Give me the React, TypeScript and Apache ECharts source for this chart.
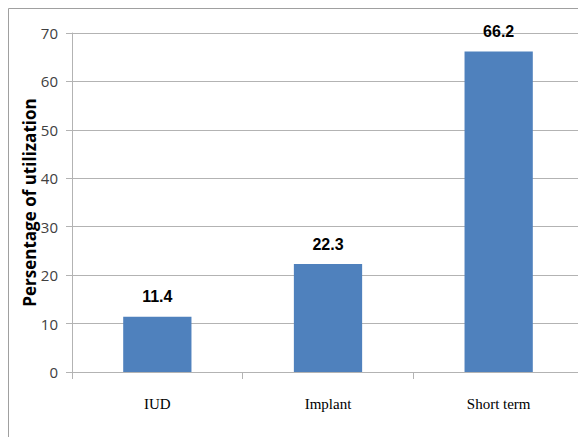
import React, { useEffect, useRef } from "react";
import * as echarts from "echarts";

const categories = ["IUD", "Implant", "Short term"];
const values = [11.4, 22.3, 66.2];
const yAxisName = "Persentage of utilization";

export default function App() {
  const ref = useRef<HTMLDivElement>(null);
  useEffect(() => {
    if (!ref.current) return;
    const chart = echarts.init(ref.current, undefined, { renderer: "svg" });
    chart.setOption({
      animation: false,
      backgroundColor: "#ffffff",
      graphic: [
        { type: "line", shape: { x1: 8.5, y1: 8.5, x2: 8.5, y2: 437 }, style: { stroke: "#a0a0a0", lineWidth: 1 } },
        { type: "line", shape: { x1: 8.5, y1: 8.5, x2: 584, y2: 8.5 }, style: { stroke: "#a0a0a0", lineWidth: 1 } },
      ],
      grid: { left: 72, top: 33, right: 0, bottom: 65 },
      xAxis: {
        type: "category",
        data: categories,
        axisLine: { show: true, lineStyle: { color: "#b3b3b3", width: 1 } },
        axisTick: { show: true, length: 7, lineStyle: { color: "#b3b3b3" } },
        axisLabel: {
          margin: 24,
          fontFamily: "Liberation Serif",
          fontSize: 15,
          color: "#000000",
        },
      },
      yAxis: {
        type: "value",
        min: 0,
        max: 70,
        interval: 10,
        name: yAxisName,
        nameLocation: "middle",
        nameGap: 34,
        nameMoveOverlap: false,
        nameTextStyle: { fontFamily: "Open Sans", fontWeight: "bold", fontSize: 17, color: "#000000" },
        axisLine: { show: true, lineStyle: { color: "#b3b3b3", width: 1 } },
        axisTick: { show: true, length: 6, lineStyle: { color: "#b3b3b3" } },
        axisLabel: { margin: 14, fontFamily: "Open Sans", fontSize: 15, color: "#404040" },
        splitLine: { show: true, lineStyle: { color: "#b3b3b3", width: 1 } },
      },
      series: [
        {
          type: "bar",
          data: values,
          barWidth: "40%",
          itemStyle: { color: "#4f81bd" },
          label: {
            show: true,
            position: "top",
            distance: 12,
            fontFamily: "Liberation Sans",
            fontWeight: "bold",
            fontSize: 16,
            color: "#000000",
          },
        },
      ],
    });
    return () => chart.dispose();
  }, []);
  return (
    <div style={{ position: "absolute", left: 0, top: 0, width: 578, height: 437, overflow: "hidden" }}>
      <div ref={ref} style={{ width: 584, height: 437 }} />
    </div>
  );
}
